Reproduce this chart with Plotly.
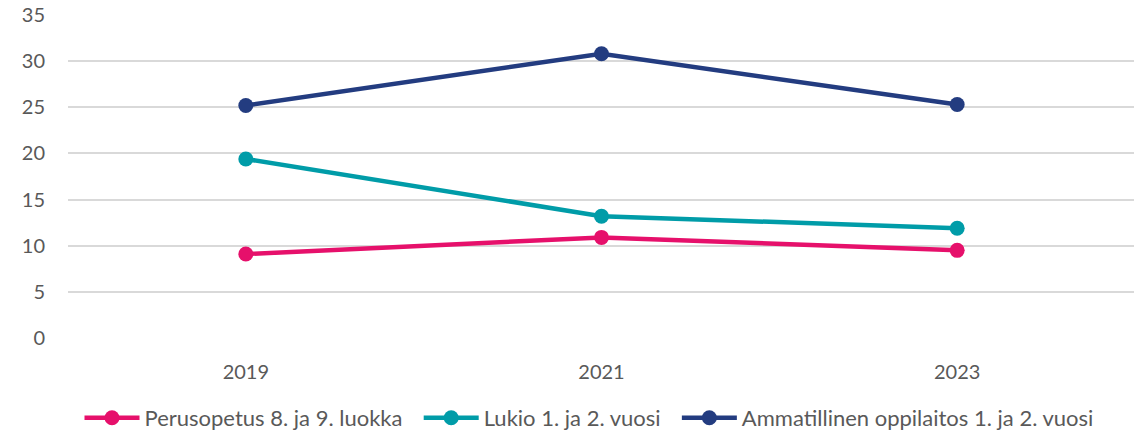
import plotly.graph_objects as go

years = ["2019", "2021", "2023"]
perusopetus = [9.1, 10.9, 9.5]
lukio = [19.4, 13.2, 11.9]
ammatillinen = [25.2, 30.8, 25.3]

series_names = [
    "Perusopetus 8. ja 9. luokka",
    "Lukio 1. ja 2. vuosi",
    "Ammatillinen oppilaitos 1. ja 2. vuosi",
]
colors = ["#E6106B", "#009CA8", "#233C80"]

fig = go.Figure()
for name, vals, col in zip(series_names, [perusopetus, lukio, ammatillinen], colors):
    fig.add_trace(go.Scatter(
        x=years, y=vals, name=name + "\u00a0\u00a0", mode="lines+markers",
        line=dict(color=col, width=4.5),
        marker=dict(color=col, size=15),
    ))

# page is rendered with an 8px body offset; compensate
OFF = 8
W, H = 1142, 435
L = 68 - OFF
T = 15 - OFF
R = W - (1135 - OFF)
B = H - (338 - OFF)

fig.update_layout(
    width=W, height=H,
    margin=dict(l=L, r=R, t=T, b=B, autoexpand=False),
    paper_bgcolor="white", plot_bgcolor="white",
    font=dict(family="Lato, Carlito, sans-serif", size=20, color="#595959"),
    showlegend=True,
    legend=dict(orientation="h", x=(595 - OFF) / W, xanchor="center", xref="container",
                y=(H - (418 - OFF)) / H, yanchor="middle", yref="container",
                font=dict(size=22, color="#595959"), itemwidth=55,
                tracegroupgap=0),
    xaxis=dict(type="category", range=[-0.5, 2.5], showgrid=False, showline=False,
               zeroline=False, ticks="", ticklabelstandoff=20, automargin=False),
    yaxis=dict(range=[0, 35], dtick=5, ticklabeloverflow="allow",
               showgrid=True, gridcolor="#D9D9D9", gridwidth=1.5,
               zeroline=False, showline=False, ticks="", ticklabelstandoff=22,
               automargin=False),
)
fig.write_html("out.html")
